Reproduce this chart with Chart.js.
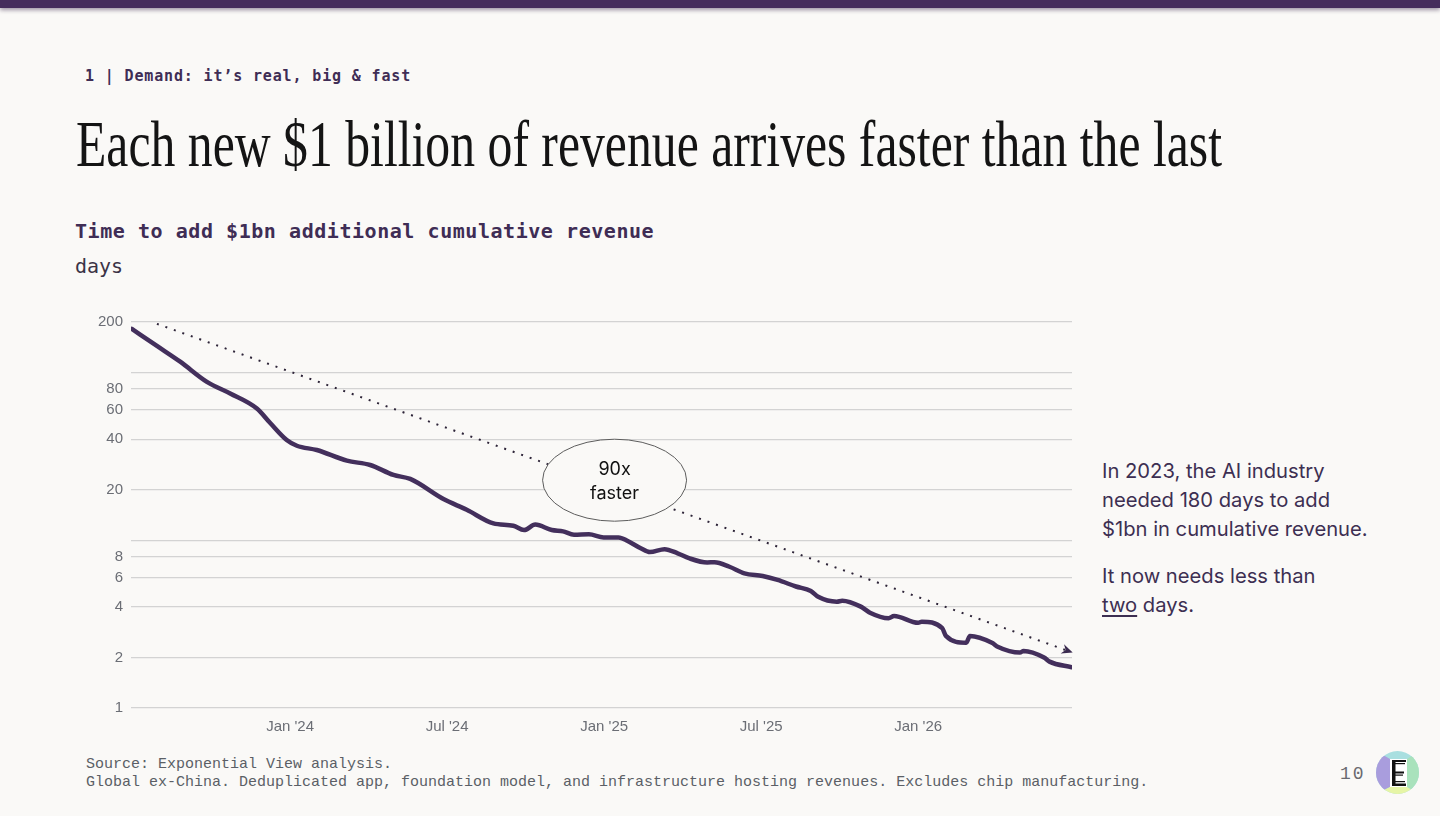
<!DOCTYPE html>
<html>
<head>
<meta charset="utf-8">
<script src="https://cdn.jsdelivr.net/npm/chart.js@4.4.1/dist/chart.umd.min.js"></script>
<style>
html,body{margin:0;padding:0;background:#faf9f7;}
body{width:1440px;height:816px;position:relative;overflow:hidden;}
.topbar{position:absolute;left:0;top:0;width:1440px;height:8px;background:#452c5c;box-shadow:0 2px 4px rgba(40,20,60,0.45);}
.abs{position:absolute;white-space:nowrap;margin:0;}
#section{left:85px;top:66px;font:bold 15px/20px "DejaVu Sans Mono",monospace;color:#3f2d55;letter-spacing:0.85px;}
#title{left:76px;top:112px;font:65px/65px "Liberation Serif",serif;color:#141414;transform-origin:0 0;display:inline-block;}
#subtitle{left:75px;top:219px;font:bold 20px/24px "DejaVu Sans Mono",monospace;color:#3f2d55;letter-spacing:0.55px;}
#unit{left:75px;top:254px;font:20px/24px "DejaVu Sans Mono",monospace;color:#3b3346;}
#chartbox{position:absolute;left:60px;top:300px;width:1020px;height:450px;}
#note{left:1102px;top:456px;font:20.2px/29px Inter,sans-serif;color:#3d2f52;}
#note p{margin:0 0 18px 0;}
#note u{text-decoration-thickness:1.5px;text-underline-offset:3px;}
#footer{left:86px;top:756px;font:15px/18px "Liberation Mono",monospace;color:#5b5f66;}
#page{left:1340px;top:763px;font:18px/22px "Liberation Mono",monospace;color:#6a6a70;letter-spacing:2px;}
</style>
</head>
<body>
<div class="topbar"></div>
<div class="abs" id="section">1 | Demand: it’s real, big &amp; fast</div>
<div class="abs" id="title">Each new $1 billion of revenue arrives faster than the last</div>
<div class="abs" id="subtitle">Time to add $1bn additional cumulative revenue</div>
<div class="abs" id="unit">days</div>
<div id="chartbox"><canvas id="chart"></canvas></div>
<div class="abs" id="note">
<p>In 2023, the AI industry<br>needed 180 days to add<br>$1bn in cumulative revenue.</p>
<p>It now needs less than<br><u>two</u> days.</p>
</div>
<div class="abs" id="footer">Source: Exponential View analysis.<br>Global ex-China. Deduplicated app, foundation model, and infrastructure hosting revenues. Excludes chip manufacturing.</div>
<div class="abs" id="page">10</div>
<svg class="abs" style="left:1376px;top:751px" width="43" height="43" viewBox="0 0 43 43">
<defs><clipPath id="lc"><circle cx="21.5" cy="21.5" r="21.5"/></clipPath></defs>
<g clip-path="url(#lc)">
<rect width="43" height="43" fill="#a8dfe0"/>
<polygon points="0,0 14,8 14,36 0,43" fill="#a99ddd"/>
<polygon points="43,0 31,8 31,36 43,43" fill="#a9e2bc"/>
<polygon points="0,43 14,36 31,36 43,43" fill="#e6f5a6"/>
<rect x="14" y="8" width="17" height="28" fill="#ffffff"/>
<rect x="16" y="9" width="3.5" height="26" fill="#111"/>
<rect x="16" y="9" width="14" height="2" fill="#111"/>
<rect x="19" y="12" width="10" height="1.2" fill="#111"/>
<rect x="16" y="20.5" width="12" height="2" fill="#111"/>
<rect x="19" y="23.5" width="8" height="1.2" fill="#111"/>
<rect x="19" y="30" width="10" height="1.2" fill="#111"/>
<rect x="16" y="32.5" width="14" height="2.5" fill="#111"/>
</g>
</svg>
<script>
// Months relative to Jan 2024 (0 = Jan '24)
const months = [-6.05,-5.09,-4.20,-3.18,-2.29,-1.27,-0.76,-0.13,0.26,1.02,2.17,3.06,3.95,4.59,5.86,6.75,7.77,8.53,8.94,9.37,10.0,10.43,10.85,11.42,11.98,12.55,12.90,13.40,13.75,14.31,14.81,15.24,15.94,16.22,16.79,17.36,18.06,18.63,19.33,19.90,20.18,20.89,21.10,21.81,22.16,22.87,23.08,24.00,24.14,24.92,25.06,25.84,25.98,26.82,27.04,27.89,28.03,28.81,29.02,29.87];
const days = [182,144,116,88,75,61,50,39.6,36.6,34.5,29.8,28.1,24.5,23.2,17.6,15.2,12.6,12.2,11.5,12.4,11.5,11.3,10.8,10.85,10.4,10.4,9.9,8.96,8.5,8.85,8.36,7.82,7.37,7.4,6.95,6.35,6.12,5.8,5.3,4.98,4.6,4.3,4.36,4.02,3.7,3.43,3.54,3.22,3.27,2.99,2.69,2.45,2.69,2.45,2.32,2.14,2.19,2.0,1.89,1.75];
const trendMonths = [-5.09, 29.87];
const trendDays = [195, 2.15];
const xTickMonths = [0, 6, 12, 18, 24];
const xTickLabels = ["Jan '24", "Jul '24", "Jan '25", "Jul '25", "Jan '26"];
const yGridValues = [1, 2, 4, 6, 8, 10, 20, 40, 60, 80, 100, 200];
const yLabelValues = [1, 2, 4, 6, 8, 20, 40, 60, 80, 200];
const calloutAt = {month: 12.4, days: 22.8};
const calloutText = ["90x", "faster"];

// condense title to reference width
(function(){
  const t = document.getElementById('title');
  const w = t.getBoundingClientRect().width;
  t.style.transform = 'scaleX(' + (1146 / w) + ')';
})();

const calloutPlugin = {
  id: 'callout',
  afterDatasetsDraw(chart) {
    const ctx = chart.ctx, xs = chart.scales.x, ys = chart.scales.y;
    const n = trendMonths.length;
    const x1 = xs.getPixelForValue(trendMonths[n-2]), y1 = ys.getPixelForValue(trendDays[n-2]);
    const x2 = xs.getPixelForValue(trendMonths[n-1]), y2 = ys.getPixelForValue(trendDays[n-1]);
    const ang = Math.atan2(y2 - y1, x2 - x1);
    ctx.save();
    ctx.translate(x2, y2); ctx.rotate(ang);
    ctx.beginPath(); ctx.moveTo(1, 0); ctx.lineTo(-10, -5); ctx.lineTo(-6.5, 0); ctx.lineTo(-10, 5); ctx.closePath();
    ctx.fillStyle = '#3a2a4f'; ctx.fill();
    ctx.restore();
    const cx = xs.getPixelForValue(calloutAt.month), cy = ys.getPixelForValue(calloutAt.days);
    ctx.save();
    ctx.beginPath(); ctx.ellipse(cx, cy, 72, 41, 0, 0, Math.PI * 2);
    ctx.fillStyle = '#faf9f7'; ctx.fill();
    ctx.lineWidth = 1; ctx.strokeStyle = '#5c5c5c'; ctx.stroke();
    ctx.fillStyle = '#111'; ctx.font = '18px Inter, sans-serif';
    ctx.textAlign = 'center'; ctx.textBaseline = 'middle';
    ctx.fillText(calloutText[0], cx, cy - 11);
    ctx.fillText(calloutText[1], cx, cy + 13);
    ctx.restore();
  }
};

new Chart(document.getElementById('chart'), {
  type: 'line',
  data: {
    datasets: [
      {
        data: months.map((m, i) => ({x: m, y: days[i]})),
        borderColor: '#432f5c', borderWidth: 4.5, pointRadius: 0,
        cubicInterpolationMode: 'monotone', borderJoinStyle: 'round', borderCapStyle: 'round', fill: false
      },
      {
        data: trendMonths.map((m, i) => ({x: m, y: trendDays[i]})),
        borderColor: '#2d2438', borderWidth: 2, borderDash: [2, 7], pointRadius: 0, tension: 0, fill: false
      }
    ]
  },
  options: {
    responsive: true, maintainAspectRatio: false, animation: false,
    layout: {padding: {top: 22, right: 8, left: 0, bottom: 0}},
    plugins: {legend: {display: false}, tooltip: {enabled: false}},
    scales: {
      x: {
        type: 'linear', min: -6.08, max: 29.88,
        afterBuildTicks: s => { s.ticks = xTickMonths.map(v => ({value: v})); },
        afterFit: s => { s.height = 42; },
        grid: {display: false}, border: {display: false},
        ticks: {
          autoSkip: false, maxRotation: 0, padding: 2, color: '#6b6e75',
          font: {family: '"Liberation Sans", Arial, sans-serif', size: 15},
          callback: v => { const i = xTickMonths.indexOf(v); return i >= 0 ? xTickLabels[i] : ''; }
        }
      },
      y: {
        type: 'logarithmic', min: 1, max: 200,
        afterBuildTicks: s => { s.ticks = yGridValues.map(v => ({value: v})); },
        afterFit: s => { s.width = 71; },
        grid: {color: '#d3d3d3', lineWidth: 1.3, drawTicks: false},
        border: {display: false},
        ticks: {
          autoSkip: false, padding: 8, color: '#6b6e75',
          font: {family: '"Liberation Sans", Arial, sans-serif', size: 15},
          callback: v => yLabelValues.includes(v) ? String(v) : ''
        }
      }
    }
  },
  plugins: [calloutPlugin]
});
</script>
</body>
</html>
